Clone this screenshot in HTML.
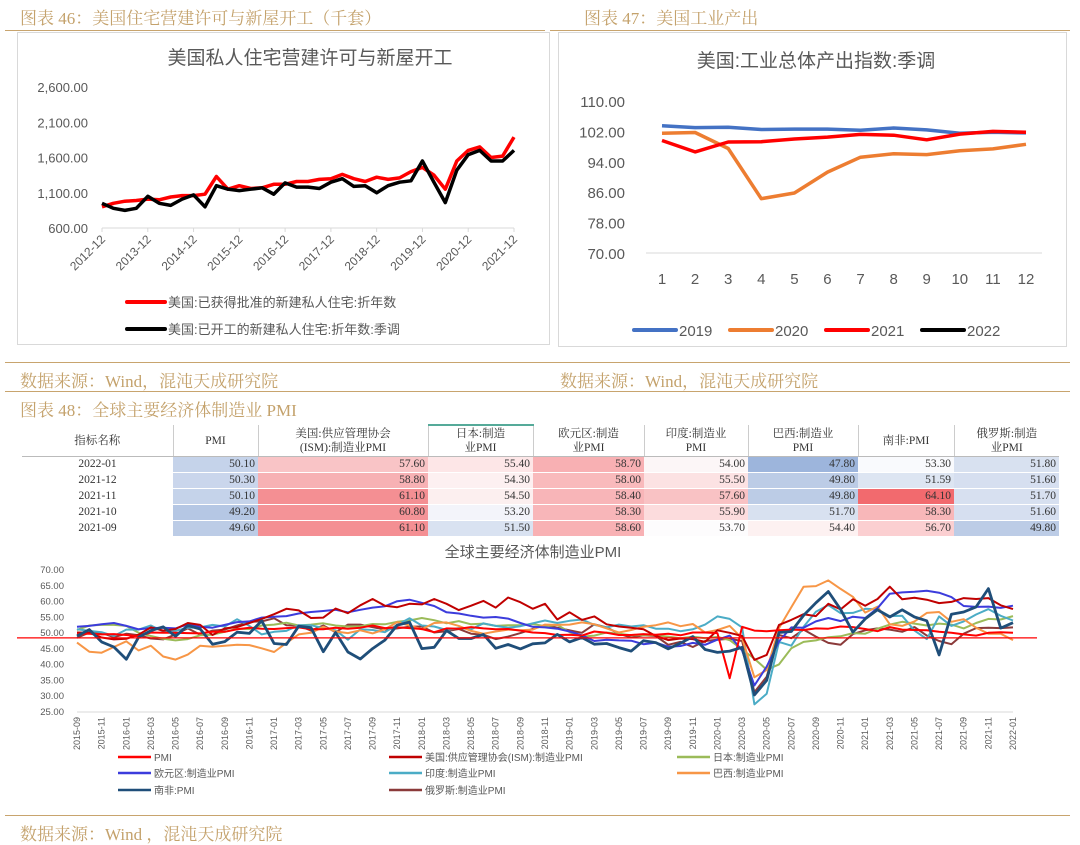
<!DOCTYPE html>
<html><head><meta charset="utf-8">
<style>
body{margin:0;width:1080px;height:844px;background:#fff;position:relative;overflow:hidden;font-family:"Liberation Sans","Noto Sans CJK SC",sans-serif}
.gold{position:absolute;color:#c4a26c;font-family:"Liberation Serif","Noto Serif CJK SC",serif;font-size:17px;white-space:nowrap}
.hr{position:absolute;height:1px;background:#c8a46e}
.box{position:absolute;border:1px solid #d9d9d9}
svg{position:absolute;left:0;top:0}
table{position:absolute;left:22px;top:424px;width:1037px;table-layout:fixed;border-collapse:collapse;font-family:"Liberation Serif","Noto Serif CJK SC",serif;font-size:11.5px;color:#333}
td{padding:0 3px;height:15px;line-height:15px;border-bottom:1px solid #fff;text-align:right;overflow:hidden;white-space:nowrap}
th{font-weight:normal;height:30px;border-left:1px solid #ccc;line-height:14px;font-size:11.5px;text-align:center;border-bottom:1px solid #bbb;padding:0}
td.d{text-align:center}
</style></head><body>
<div class="gold" style="left:20px;top:4px">图表 46：美国住宅营建许可与新屋开工（千套）</div>
<div class="gold" style="left:584px;top:4px">图表 47：美国工业产出</div>
<div class="hr" style="left:5px;top:30px;width:540px"></div>
<div class="hr" style="left:550px;top:30px;width:520px"></div>
<div class="box" style="left:17px;top:32px;width:531px;height:311px"></div>
<div class="box" style="left:558px;top:32px;width:507px;height:313px"></div>
<div class="hr" style="left:5px;top:362px;width:1065px"></div>
<div class="gold" style="left:20px;top:367px">数据来源：Wind，混沌天成研究院</div>
<div class="gold" style="left:560px;top:367px">数据来源：Wind，混沌天成研究院</div>
<div class="hr" style="left:5px;top:391px;width:1065px"></div>
<div class="gold" style="left:20px;top:396px">图表 48：全球主要经济体制造业 PMI</div>
<div class="gold" style="left:20px;top:820px">数据来源：Wind ，混沌天成研究院</div>
<div class="hr" style="left:5px;top:815px;width:1065px"></div>

<table>
<colgroup><col style="width:151px"><col style="width:85px"><col style="width:170px"><col style="width:105px"><col style="width:111px"><col style="width:104px"><col style="width:110px"><col style="width:96px"><col style="width:105px"></colgroup>
<tr><th style="border-left:none">指标名称</th><th>PMI</th><th>美国:供应管理协会<br>(ISM):制造业PMI</th><th style="border-top:2px solid #5a9">日本:制造<br>业PMI</th><th>欧元区:制造<br>业PMI</th><th>印度:制造业<br>PMI</th><th>巴西:制造业<br>PMI</th><th>南非:PMI</th><th>俄罗斯:制造<br>业PMI</th></tr>
<tr><td class="d">2022-01</td><td style="background:#c5d3ea">50.10</td><td style="background:#f9c4c6">57.60</td><td style="background:#fde6e7">55.40</td><td style="background:#f8b0b3">58.70</td><td style="background:#fcf6f7">54.00</td><td style="background:#9db5dc">47.80</td><td style="background:#f9fafd">53.30</td><td style="background:#d8e1f0">51.80</td></tr>
<tr><td class="d">2021-12</td><td style="background:#cad6ec">50.30</td><td style="background:#f7b1b4">58.80</td><td style="background:#fdf0f1">54.30</td><td style="background:#f9babc">58.00</td><td style="background:#fce2e3">55.50</td><td style="background:#bccce6">49.80</td><td style="background:#dde5f2">51.59</td><td style="background:#d6dff0">51.60</td></tr>
<tr><td class="d">2021-11</td><td style="background:#c5d3ea">50.10</td><td style="background:#f48f93">61.10</td><td style="background:#fcefef">54.50</td><td style="background:#f8b5b8">58.40</td><td style="background:#f9c2c4">57.60</td><td style="background:#bccce6">49.80</td><td style="background:#f26a6e">64.10</td><td style="background:#d7e0f0">51.70</td></tr>
<tr><td class="d">2021-10</td><td style="background:#b5c7e4">49.20</td><td style="background:#f49397">60.80</td><td style="background:#f3f4fa">53.20</td><td style="background:#f8b6b9">58.30</td><td style="background:#fcdcdd">55.90</td><td style="background:#d8e1f0">51.70</td><td style="background:#f8b7b9">58.30</td><td style="background:#d6dff0">51.60</td></tr>
<tr><td class="d">2021-09</td><td style="background:#bccce6">49.60</td><td style="background:#f48f93">61.10</td><td style="background:#d9e2f1">51.50</td><td style="background:#f8b1b4">58.60</td><td style="background:#fdfcfd">53.70</td><td style="background:#fdf1f1">54.40</td><td style="background:#fbcfd1">56.70</td><td style="background:#bccce6">49.80</td></tr>
</table>

<svg id="svg" width="1080" height="844" xmlns="http://www.w3.org/2000/svg" font-family="Liberation Sans, Noto Sans CJK SC, sans-serif"></svg>

<script>
// ---------- Chart 46 data (quarterly from 2012-12) ----------
const housingTicks=["2012-12","2013-12","2014-12","2015-12","2016-12","2017-12","2018-12","2019-12","2020-12","2021-12"];
const permits=[900,950,980,990,1010,1000,1040,1060,1060,1080,1330,1150,1200,1160,1170,1220,1220,1260,1260,1290,1300,1360,1300,1260,1320,1290,1310,1400,1460,1350,1150,1550,1700,1750,1600,1620,1890];
const starts=[950,880,850,880,1050,950,920,1010,1070,900,1200,1150,1130,1150,1170,1080,1240,1180,1180,1160,1250,1300,1190,1200,1100,1200,1250,1270,1550,1250,960,1420,1640,1700,1550,1550,1700];
const housingYTicks=[600,1100,1600,2100,2600];
// ---------- Chart 47 data ----------
const months=[1,2,3,4,5,6,7,8,9,10,11,12];
const ip2019=[103.5,103,103.1,102.5,102.6,102.6,102.3,102.9,102.4,101.5,101.8,101.6];
const ip2020=[101.5,101.7,97.5,84.3,85.8,91.3,95.2,96.1,95.9,96.9,97.4,98.6];
const ip2021=[99.6,96.6,99.2,99.3,100,100.5,101.2,101,99.8,101.3,102,101.8];
const ip2022=[];
const ipYTicks=[70,78,86,94,102,110];
// ---------- Chart 48 data (monthly 2015-09 .. 2022-01) ----------
const pmiGlobal=[49.8,49.8,49.6,49.7,49.4,49,50.2,50.1,50.1,50,49.9,50.4,50.4,51.2,51.7,51.4,51.3,51.6,51.8,51.2,51.2,51.7,51.4,51.7,52.4,51.6,51.8,51.6,51.3,50.3,51.5,51.4,51.9,51.5,51.2,51.3,50.8,50.2,50,49.4,49.5,49.2,50.5,50.1,49.4,49.4,49.7,49.5,49.8,49.3,50.2,50.2,50,35.7,52,50.8,50.6,50.9,51.1,51,51.5,51.4,52.1,51.9,51.3,50.6,51.9,51.1,51,50.9,50.4,50.1,49.6,49.2,50.1,50.3,50.1];
const pmiUS=[50.2,50.1,48.6,48,48.2,49.5,51.8,50.8,51.3,53.2,52.6,49.4,51.5,51.9,53.2,54.5,56,57.7,57.2,54.8,54.9,57.8,56.3,58.8,60.8,58.7,58.2,59.3,59.1,60.8,59.3,57.3,58.7,60.2,58.1,61.3,59.8,57.7,59.3,54.3,56.6,54.2,55.3,52.8,52.1,51.7,51.2,49.1,47.8,48.3,48.1,47.2,50.9,50.1,49.1,41.5,43.1,52.6,54.2,56,55.4,59.3,57.5,60.7,58.7,60.8,64.7,60.7,61.2,60.6,59.5,59.9,61.1,60.8,61.1,58.8,57.6];
const pmiJapan=[51,52.4,52.6,52.6,52.3,50.1,49.1,48.2,47.7,48.1,49.3,49.5,50.4,51.4,51.3,52.4,52.7,53.3,52.4,52.7,53.1,52.4,52.1,52.2,52.9,52.8,53.6,54,54.8,54.1,53.1,53.8,52.8,53,52.3,52.5,52.5,52.9,52.2,52.6,50.3,48.9,49.2,50.2,49.8,49.3,49.4,49.3,48.9,48.4,48.9,48.4,48.8,47.8,44.8,41.9,38.4,40.1,45.2,47.2,47.7,48.7,49,50,49.8,51.4,52.7,53.6,53,52.4,53,52.7,51.5,53.2,54.5,54.3,55.4];
const pmiEuro=[52,52.3,52.8,53.2,52.3,51.2,51.6,51.7,51.5,52.8,52,51.7,52.6,53.5,53.7,54.9,55.2,55.4,56.2,56.7,57,57.4,56.6,57.4,58.1,58.5,60.1,60.6,59.6,58.6,56.6,56.2,55.5,54.9,55.1,54.6,53.2,52,51.8,51.4,50.5,49.3,47.5,47.9,47.7,47.6,46.5,47,45.7,45.9,46.9,46.3,47.9,49.2,44.5,33.4,39.4,47.4,51.8,51.7,53.7,54.8,53.8,55.2,54.8,57.9,62.5,62.9,63.1,63.4,62.8,61.4,58.6,58.3,58.4,58,58.7];
const pmiIndia=[51.2,50.7,50.3,49.1,51.1,51.1,52.4,50.5,50.7,51.7,51.8,52.6,52.1,54.4,52.3,49.6,50.4,50.7,52.5,52.5,51.6,50.9,47.9,51.2,51,50.3,52.6,54.7,52.4,52.1,51,51.6,51.2,53.1,52.3,51.7,52.2,53.1,54,53.2,53.9,54.3,52.6,51.8,52.7,52.1,52.5,51.4,51.4,50.6,51.2,52.7,55.3,54.5,51.8,27.4,30.8,47.2,46,52,56.8,58.9,56.3,56.4,57.7,57.5,55.4,55.5,50.8,48.1,55.3,52.3,53.7,55.9,57.6,55.5,54];
const pmiBrazil=[47,44.1,43.8,45.6,47.4,44.5,46,42.6,41.6,43.2,46,45.7,46,46.3,46.2,45.2,44,46.9,49.6,50.1,52,50.5,50,50.9,49.9,51.2,53.5,52.4,51.2,53.2,53.4,52.3,50.7,49.8,50.5,51.1,50.9,51.1,52.7,52.6,52.7,53.4,52.8,51.5,50.2,51,52,52.5,53.4,52.2,52.9,50.2,51,52.3,48.4,36,38.3,51.6,58.2,64.7,64.9,66.7,64,61.5,56.5,58.4,52.8,52.3,53.7,56.4,56.7,53.6,54.4,51.7,49.8,49.8,47.8];
const pmiSA=[49.1,51.1,47.2,45.6,41.7,48.7,50.8,52,49,52.4,51.3,46.5,47.3,50.3,49.9,53.9,46.7,46.4,52.2,51.7,44.1,50.2,44,41.8,45.1,47.8,52.5,53.5,45.1,45.5,50.8,48.3,48.3,49.6,45.2,46.4,45,46.6,46.9,49.6,47.2,48.6,46.5,46.7,45.4,44.3,47.6,47,45,46.8,48.9,44.8,43.9,44.3,45.5,30.4,35,50.2,50.5,55.6,59.6,63.2,57.5,50.3,54.5,57.4,55.1,57.4,55.1,53.9,43.1,56,56.7,58.3,64.1,51.6,53.3];
const pmiRussia=[48.5,50.2,50.1,48.7,49.8,49.3,48.3,48,49.6,51.5,49.5,50.8,51.1,52.4,53.6,53.7,54.7,52.5,52.4,50.8,52.4,50.3,52.7,52.7,51.9,51.1,51.5,52,52.1,50.2,50.6,51.3,49.8,49.5,48.1,48.9,50,51.3,52.6,51.7,50.9,50.1,52.8,51.8,49.8,48.6,49.3,49.1,46.3,47.2,45.6,47.5,47.9,48.2,47.5,31.3,36.2,49.4,48.4,51.1,48.9,46.9,46.3,49.7,50.9,51.5,51.1,50.4,51.9,49.2,47.5,46.5,49.8,51.6,51.7,51.6,51.8];
const pmiYTicks=[25,30,35,40,45,50,55,60,65,70];
const refLine=[48.5];

const NS="http://www.w3.org/2000/svg";
const svg=document.getElementById('svg');
function mk(tag,attrs,parent){const e=document.createElementNS(NS,tag);for(const k in attrs)e.setAttribute(k,attrs[k]);(parent||svg).appendChild(e);return e;}
function txt(s,attrs){const e=mk('text',attrs);e.textContent=s;return e;}
function pathFrom(vals,xf,yf){return vals.map((v,i)=>(i?'L':'M')+xf(i).toFixed(1)+','+yf(v).toFixed(1)).join('');}

// ===== Chart 46 =====
let t=txt('美国私人住宅营建许可与新屋开工',{x:310,y:64,'font-size':19,fill:'#595959','text-anchor':'middle'});


const hx=i=>102+i*(514-102)/36, hy=v=>228-(v-600)*(228-87)/2000;
mk('line',{x1:102,y1:228,x2:514,y2:228,stroke:'#d9d9d9'});
housingYTicks.forEach(v=>{const e=txt(v.toLocaleString('en-US')+'.00',{x:88,y:hy(v)+5,'font-size':13,fill:'#595959','text-anchor':'end'});

});
housingTicks.forEach((s,i)=>{const x=102+i*(514-102)/9;mk('line',{x1:x,y1:228,x2:x,y2:232,stroke:'#d9d9d9'});
const e=txt(s,{x:x+4,y:240,'font-size':12,fill:'#595959','text-anchor':'end',transform:`rotate(-45 ${x+4} 240)`});

});
let p=mk('path',{d:pathFrom(permits,hx,hy),fill:'none',stroke:'#ff0000','stroke-width':3.5,'stroke-linejoin':'round'});


p=mk('path',{d:pathFrom(starts,hx,hy),fill:'none',stroke:'#000','stroke-width':3.5,'stroke-linejoin':'round'});


[['#ff0000','美国:已获得批准的新建私人住宅:折年数',302],['#000','美国:已开工的新建私人住宅:折年数:季调',329]].forEach(([c,s,y])=>{
const g=mk('g',{});

mk('line',{x1:127,y1:y,x2:165,y2:y,stroke:c,'stroke-width':4,'stroke-linecap':'round'},g);
const e=mk('text',{x:168,y:y+5,'font-size':13,fill:'#595959'},g);e.textContent=s;});

// ===== Chart 47 =====
t=txt('美国:工业总体产出指数:季调',{x:816,y:67,'font-size':19,fill:'#595959','text-anchor':'middle'});


const ix=i=>662+i*(1026-662)/11, iy=v=>253-(v-70)*(253-101)/40;
mk('line',{x1:646,y1:253,x2:1042,y2:253,stroke:'#d9d9d9'});
ipYTicks.forEach(v=>{const e=txt(v.toFixed(2),{x:625,y:iy(v)+6,'font-size':15,fill:'#595959','text-anchor':'end'});

});
months.forEach((m,i)=>{const e=txt(String(m),{x:ix(i),y:284,'font-size':15,fill:'#595959','text-anchor':'middle'});

});
[[ip2019,'#4472c4','2019'],[ip2020,'#ed7d31','2020'],[ip2021,'#ff0000','2021'],[ip2022,'#000000','2022']].forEach(([d,c,n],k)=>{
if(d.length){const q=mk('path',{d:pathFrom(d,ix,iy),fill:'none',stroke:c,'stroke-width':3.5,'stroke-linejoin':'round'});

}
const g=mk('g',{});

const lx=634+k*96;mk('line',{x1:lx,y1:330,x2:lx+42,y2:330,stroke:c,'stroke-width':4,'stroke-linecap':'round'},g);
const e=mk('text',{x:lx+45,y:336,'font-size':15,fill:'#595959'},g);e.textContent=n;});

// ===== Chart 48 =====
t=txt('全球主要经济体制造业PMI',{x:533,y:557,'font-size':15,fill:'#595959','text-anchor':'middle'});


const N=pmiGlobal.length;
const px=i=>77+i*(1013-77)/(N-1), py=v=>712-(v-25)*(712-570)/45;
mk('line',{x1:77,y1:712,x2:1013,y2:712,stroke:'#d9d9d9'});
pmiYTicks.forEach(v=>{const e=txt(v.toFixed(2),{x:64,y:py(v)+3,'font-size':9.5,fill:'#595959','text-anchor':'end'});

});
for(let i=0;i<N;i+=2){const m=8+i,y=2015+Math.floor(m/12),mo=m%12+1;const s=y+'-'+String(mo).padStart(2,'0');
const x=px(i);const e=txt(s,{x:x+3,y:717,'font-size':9,fill:'#595959','text-anchor':'end',transform:`rotate(-90 ${x+3} 717)`});

}
const series=[[pmiRussia,'#8b3a3a',2,'俄罗斯:制造业PMI'],[pmiJapan,'#9bbb59',2,'日本:制造业PMI'],[pmiIndia,'#4bacc6',2,'印度:制造业PMI'],[pmiBrazil,'#f79646',2,'巴西:制造业PMI'],[pmiEuro,'#3c3cdc',2,'欧元区:制造业PMI'],[pmiUS,'#c00000',2,'美国:供应管理协会(ISM):制造业PMI'],[pmiGlobal,'#ff0000',2,'PMI'],[pmiSA,'#1f4e79',2.8,'南非:PMI']];
series.forEach(([d,c,w,n])=>{const q=mk('path',{d:pathFrom(d,px,py),fill:'none',stroke:c,'stroke-width':w,'stroke-linejoin':'round'});

});
const rl=mk('line',{x1:17,y1:py(refLine[0]),x2:1037,y2:py(refLine[0]),stroke:'#ff0000','stroke-width':1.2});


const leg=[['#ff0000','PMI',118,757],['#c00000','美国:供应管理协会(ISM):制造业PMI',389,757],['#9bbb59','日本:制造业PMI',677,757],
['#3c3cdc','欧元区:制造业PMI',118,773],['#4bacc6','印度:制造业PMI',389,773],['#f79646','巴西:制造业PMI',677,773],
['#1f4e79','南非:PMI',118,790],['#8b3a3a','俄罗斯:制造业PMI',389,790]];
leg.forEach(([c,s,x,y])=>{const g=mk('g',{});

mk('line',{x1:x,y1:y,x2:x+33,y2:y,stroke:c,'stroke-width':2.5},g);
const e=mk('text',{x:x+36,y:y+4,'font-size':10,fill:'#595959'},g);e.textContent=s;});
</script>
</body></html>
